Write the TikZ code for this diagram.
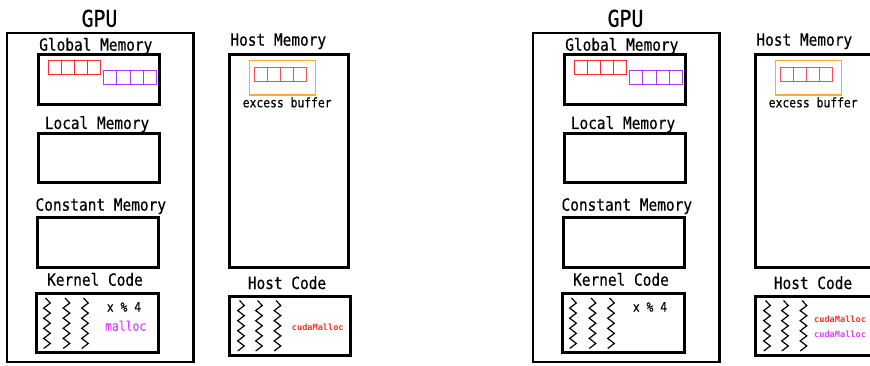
\documentclass[tikz,border=0pt]{standalone}
\usepackage{fontspec}
\newfontfamily\mono[FakeStretch=0.86,FakeBold=0.5]{DejaVu Sans Mono}
\newfontfamily\monoc{DejaVu Sans Mono}
\definecolor{arrred}{HTML}{FF2A2A}
\definecolor{arrpink}{HTML}{FF4A5A}
\definecolor{arrpurple}{HTML}{A23CF5}
\definecolor{bufor}{HTML}{FFAA33}
\definecolor{codemag}{HTML}{DD44FF}
\definecolor{codered}{HTML}{FF3333}
\tikzset{
  membox/.style={draw=black, line width=3pt, inner sep=0pt, fill=none},
  outerbox/.style={draw=black, line width=2.5pt, inner sep=0pt},
  txttitle/.style={font=\mono\fontsize{23}{24}\selectfont, inner sep=0pt, anchor=base},
  txtlbl/.style={font=\mono\fontsize{16.8}{18}\selectfont, inner sep=0pt, anchor=base},
  txtsmall/.style={font=\mono\fontsize{13.2}{14}\selectfont, inner sep=0pt, anchor=base west},
  txttiny/.style={font=\monoc\bfseries\fontsize{8.6}{10}\selectfont, inner sep=0pt, anchor=base west},
  arrcell/.style={line width=1pt},
  zzline/.style={line width=1.2pt, black, line join=miter},
}
\newcommand\zig[3]{%
  \draw[zzline] ({#1-1.5},#2) \foreach \i in {1,...,10}{ -- ({#1+ifthenelse(mod(\i,2)==1,3.3,-3.3)},{#2+\i*(#3-#2)/10}) };}
\newcommand\cellrow[5]{% color, x0, y0, cellwidth, height
  \foreach \k in {0,1,2,3}{
    \draw[arrcell,#1] ({#2+\k*#4},#3) rectangle ({#2+(\k+1)*#4},{#3+#5});
  }}
\newcommand\panel[1]{%
  \node[txttitle] (#1gputitle) at (99.5,26.7) {GPU};
  \node[outerbox, minimum width=186.5pt, minimum height=329pt] (#1gpu) at (100.25,197.5) {};
  \node[txtlbl] (#1gml) at (95.8,50.7) {Global Memory};
  \node[membox, minimum width=121.5pt, minimum height=50pt] (#1gm) at (98.75,79.5) {};
  \cellrow{arrred}{48.5}{60.5}{13}{14}
  \cellrow{arrpurple}{103.5}{71}{13.25}{14}
  \node[txtlbl] (#1lml) at (97,129) {Local Memory};
  \node[membox, minimum width=121.5pt, minimum height=49pt] (#1lm) at (98.75,158) {};
  \node[txtlbl] (#1cml) at (100.8,210.7) {Constant Memory};
  \node[membox, minimum width=121pt, minimum height=49.7pt] (#1cm) at (97.5,242.15) {};
  \node[txtlbl] (#1kcl) at (95,285.7) {Kernel Code};
  \node[membox, minimum width=122pt, minimum height=58.5pt] (#1kc) at (97.5,322.75) {};
  \zig{47}{298}{348.5}
  \zig{66.5}{298}{348.5}
  \zig{85}{298}{348.5}
  \node[txtsmall] (#1mod) at (106.7,311.7) {x \% 4};
  \node[txtlbl] (#1hml) at (278.3,45.7) {Host Memory};
  \node[membox, minimum width=118.5pt, minimum height=212pt] (#1hm) at (288.75,161) {};
  \node[draw=bufor, line width=1.2pt, inner sep=0pt, minimum width=66pt, minimum height=34.5pt] (#1buf) at (282.5,77.75) {};
  \cellrow{arrpink}{254.5}{68}{13.1}{14}
  \node[txtsmall, anchor=base] (#1bufl) at (287.2,107.3) {excess buffer};
  \node[txtlbl] (#1hcl) at (287,289) {Host Code};
  \node[membox, minimum width=121.3pt, minimum height=58.5pt] (#1hc) at (289.65,325.75) {};
  \zig{241}{300.5}{351}
  \zig{259}{300.5}{351}
  \zig{277.5}{300.5}{351}
}
\begin{document}
\begin{tikzpicture}[x=1pt,y=-1pt]
\useasboundingbox (0,0) rectangle (870,366);
\clip (0,0) rectangle (870,366);
\fill[white] (0,0) rectangle (870,366);
\begin{scope}
  \panel{a}
  \node[txtsmall, text=codemag] (amalloc) at (105,330.7) {malloc};
  \node[txttiny, text=codered] (acuda) at (291.7,330) {cudaMalloc};
\end{scope}
\begin{scope}[xshift=526pt]
  \panel{b}
  \node[txttiny, text=codered] (bcuda1) at (288,322.5) {cudaMalloc};
  \node[txttiny, text=codemag] (bcuda2) at (288,337) {cudaMalloc};
\end{scope}
\end{tikzpicture}
\end{document}
